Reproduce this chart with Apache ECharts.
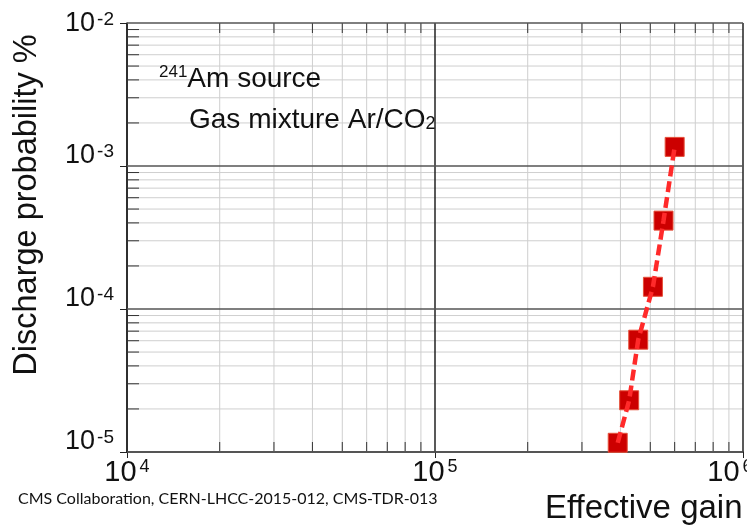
<!DOCTYPE html>
<html><head><meta charset="utf-8">
<script src="https://cdn.jsdelivr.net/npm/echarts@6/dist/echarts.min.js"></script>
<style>html,body{margin:0;padding:0;background:#fff}#c{width:747px;height:527px}</style>
</head><body><div id="c"></div>
<script>
// Data (ascending gain)
const gain = [3.92e5, 4.27e5, 4.57e5, 5.10e5, 5.52e5, 6.0e5];
const prob = [1.16e-5, 2.30e-5, 6.1e-5, 1.43e-4, 4.15e-4, 1.36e-3];
const xDecades = [1e4, 1e5, 1e6];
const yDecades = [1e-5, 1e-4, 1e-3, 1e-2];
const xTitle = 'Effective gain';
const yTitle = 'Discharge probability %';
const citation = 'CMS Collaboration, CERN-LHCC-2015-012, CMS-TDR-013';

const FONT = 'Liberation Sans';
const xMin = 1e4, xMax = 1e6, yMin = 1e-5, yMax = 1e-2;

function gridValues(decades) {
  const out = [];
  for (let i = 0; i < decades.length; i++) {
    out.push({ v: decades[i], major: true });
    if (i < decades.length - 1) for (let k = 2; k <= 9; k++) out.push({ v: k * decades[i], major: false });
  }
  return out;
}
const xGrid = gridValues(xDecades);
const yGrid = gridValues(yDecades);
const points = gain.map((g, i) => [g, prob[i]]);

const chart = echarts.init(document.getElementById('c'), null, { renderer: 'canvas' });

function expOf(v) { return Math.round(Math.log10(v)); }

chart.setOption({
  backgroundColor: '#ffffff',
  animation: false,
  grid: { left: 127, right: 4, top: 23, bottom: 75, containLabel: false, outerBoundsMode: 'none' },
  xAxis: {
    type: 'log', logBase: 10, min: xMin, max: xMax,
    axisLine: { show: true, lineStyle: { color: '#222', width: 1.5 } },
    axisTick: { show: true, length: 6, lineStyle: { color: '#222' } },
    splitLine: { show: false },
    axisLabel: {
      formatter: v => (v >= xMax ? '{b|10}{se|' : '{b|10}{s|') + expOf(v) + '}',
      margin: 6, hideOverlap: false, showMaxLabel: true, showMinLabel: true,
      rich: {
        b: { fontFamily: FONT, fontSize: 29, color: '#111', lineHeight: 30 },
        s: { fontFamily: FONT, fontSize: 18, color: '#111', lineHeight: 18, verticalAlign: 'top', padding: [0, 0, 0, 3] },
        se: { fontFamily: FONT, fontSize: 18, color: '#111', lineHeight: 18, verticalAlign: 'top', padding: [0, 26, 0, 3] }
      }
    }
  },
  yAxis: {
    type: 'log', logBase: 10, min: yMin, max: yMax,
    axisLine: { show: true, lineStyle: { color: '#222', width: 1.5 } },
    axisTick: { show: true, length: 7, lineStyle: { color: '#222' } },
    splitLine: { show: false },
    axisLabel: {
      formatter: v => v >= yMax ? '{tb|10}{ts|' + expOf(v) + '}' : '{b|10}{s|' + expOf(v) + '}',
      margin: 13, verticalAlign: 'bottom', hideOverlap: false, showMaxLabel: true, showMinLabel: true,
      rich: {
        b: { fontFamily: FONT, fontSize: 27, color: '#111', lineHeight: 24, verticalAlign: 'top' },
        s: { fontFamily: FONT, fontSize: 19, color: '#111', lineHeight: 12, verticalAlign: 'top', padding: [0, 0, 0, 2] },
        tb: { fontFamily: FONT, fontSize: 27, color: '#111', lineHeight: 13, verticalAlign: 'top' },
        ts: { fontFamily: FONT, fontSize: 19, color: '#111', lineHeight: 8, verticalAlign: 'top', padding: [0, 0, 0, 2] }
      }
    }
  },
  series: [
    {
      type: 'custom', z: 1, silent: true,
      data: xGrid.map(g => [g.v, yMin, g.major ? 1 : 0]),
      renderItem: function (params, api) {
        const v = api.value(0); const major = api.value(2) === 1;
        const p = api.coord([v, yMin]); const cs = params.coordSys;
        const ch = [{ type: 'line', z2: major ? 5 : 1,
          shape: { x1: p[0], y1: cs.y, x2: p[0], y2: cs.y + cs.height },
          style: { stroke: major ? '#222' : '#cfcfcf', lineWidth: major ? 1.5 : 1 } }];
        if (!major) {
          ch.push({ type: 'line', z2: 3, shape: { x1: p[0], y1: cs.y, x2: p[0], y2: cs.y + 10 }, style: { stroke: '#333', lineWidth: 1 } });
          ch.push({ type: 'line', z2: 3, shape: { x1: p[0], y1: cs.y + cs.height - 10, x2: p[0], y2: cs.y + cs.height }, style: { stroke: '#333', lineWidth: 1 } });
        }
        return { type: 'group', children: ch };
      }
    },
    {
      type: 'custom', z: 1, silent: true,
      data: yGrid.map(g => [xMin, g.v, g.major ? 1 : 0]),
      renderItem: function (params, api) {
        const v = api.value(1); const major = api.value(2) === 1;
        const p = api.coord([xMin, v]); const cs = params.coordSys;
        const ch = [{ type: 'line', z2: major ? 5 : 1,
          shape: { x1: cs.x, y1: p[1], x2: cs.x + cs.width, y2: p[1] },
          style: { stroke: major ? '#555' : '#cfcfcf', lineWidth: major ? 1.5 : 1 } }];
        if (!major) {
          ch.push({ type: 'line', z2: 3, shape: { x1: cs.x, y1: p[1], x2: cs.x + 12, y2: p[1] }, style: { stroke: '#333', lineWidth: 1 } });
        }
        return { type: 'group', children: ch };
      }
    },
    {
      type: 'scatter', z: 5,
      data: points,
      symbol: 'rect', symbolSize: 19,
      itemStyle: { color: '#cc0000', borderColor: '#e5503a', borderWidth: 1, opacity: 1 }
    },
    {
      type: 'line', z: 6,
      data: points,
      symbol: 'none', showSymbol: false,
      lineStyle: { color: '#ff2a2a', width: 4.5, type: [11, 5] }
    }
  ],
  graphic: [
    { type: 'text', x: 27, y: 205, rotation: Math.PI / 2, z: 10,
      style: { text: yTitle, fontFamily: FONT, fontSize: 32.5, fill: '#111', align: 'center', verticalAlign: 'middle' } },
    { type: 'text', left: 159, top: 64, z: 10,
      style: { text: '{s|241}{n|Am source}', rich: {
        s: { fontFamily: FONT, fontSize: 17, fill: '#111', padding: [0, 0, 14, 0] },
        n: { fontFamily: FONT, fontSize: 28, fill: '#111' } } } },
    { type: 'text', left: 189, top: 106, z: 10,
      style: { text: '{n|Gas mixture Ar/CO}{b|2}', rich: {
        n: { fontFamily: FONT, fontSize: 28, fill: '#111' },
        b: { fontFamily: FONT, fontSize: 18, fill: '#111', padding: [8, 0, 0, 0] } } } },
    { type: 'text', left: 545, top: 492, z: 10,
      style: { text: xTitle, fontFamily: FONT, fontSize: 33, fill: '#111' } },
    { type: 'text', left: 18, top: 491, z: 10,
      style: { text: citation, fontFamily: 'Lato', fontSize: 16, fill: '#111' } }
  ]
});
</script></body></html>
